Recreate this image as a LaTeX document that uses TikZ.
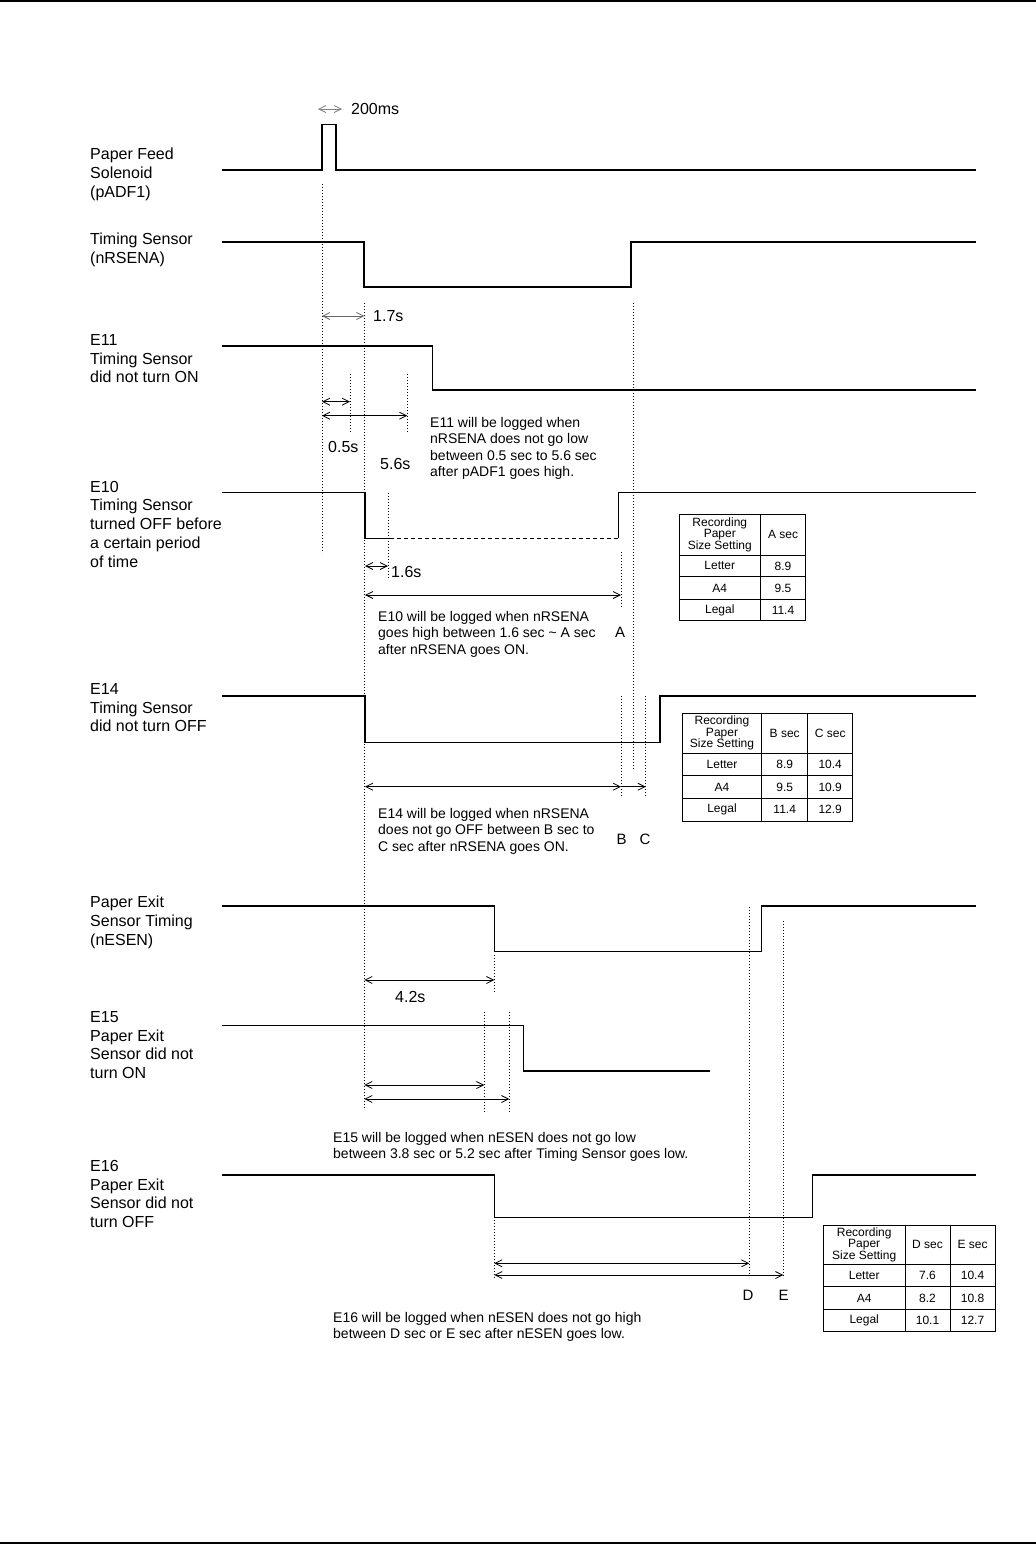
\documentclass[tikz,border=0pt]{standalone}
\usepackage{fontspec}
\setmainfont{Liberation Sans}
\usetikzlibrary{arrows.meta}
\begin{document}
\begin{tikzpicture}[x=1pt,y=-1pt,
 sig/.style={line width=1.3pt, line join=miter},
 dotv/.style={line width=0.9pt, dash pattern=on 1pt off 2pt},
 dashl/.style={line width=1.1pt, dash pattern=on 4pt off 3pt},
 dim/.style={line width=0.8pt, {Straight Barb[length=7pt,width=7pt]}-{Straight Barb[length=7pt,width=7pt]}},
 dimr/.style={line width=0.8pt, -{Straight Barb[length=7pt,width=7pt]}},
 lab/.style={anchor=north west, inner sep=0pt, align=left, font=\fontsize{16}{18.8}\selectfont},
 note/.style={anchor=north west, inner sep=0pt, align=left, font=\fontsize{14}{16.6}\selectfont},
 val/.style={inner sep=0pt, font=\fontsize{16}{19}\selectfont},
 letter/.style={inner sep=0pt, font=\fontsize{15}{18}\selectfont},
 tcell/.style={inner sep=0pt, align=center, font=\fontsize{12}{11.5}\selectfont},
 tab/.style={line width=0.9pt}
]
\useasboundingbox (0,0) rectangle (1036,1545);
% page rules
\draw[line width=2pt] (0,1) -- (1036,1);
\draw[line width=2pt] (0,1543) -- (1036,1543);

% ---------- left labels ----------
\node[lab] (lPF)  at (90,148)   {Paper Feed\\Solenoid\\(pADF1)};
\node[lab] (lTS)  at (90,233)   {Timing Sensor\\(nRSENA)};
\node[lab] (lE11) at (90,334)   {E11\\Timing Sensor\\did not turn ON};
\node[lab] (lE10) at (90,480.7) {E10\\Timing Sensor\\turned OFF before\\a certain period\\of time};
\node[lab] (lE14) at (90,683)   {E14\\Timing Sensor\\did not turn OFF};
\node[lab] (lPE)  at (90,896)   {Paper Exit\\Sensor Timing\\(nESEN)};
\node[lab] (lE15) at (90,1011)  {E15\\Paper Exit\\Sensor did not\\turn ON};
\node[lab] (lE16) at (90,1160)  {E16\\Paper Exit\\Sensor did not\\turn OFF};

% ---------- signals ----------
% Paper feed solenoid
\draw[sig] (222,170) -- (322,170) -- (322,124.5) -- (336,124.5) -- (336,170) -- (976,170);
% Timing sensor
\draw[sig] (222,242) -- (364,242) -- (364,287) -- (631,287) -- (631,242) -- (976,242);
% E11
\draw[sig] (222,346) -- (432.5,346) -- (432.5,390) -- (976,390);
% E10
\draw[sig] (222,492.5) -- (365,492.5) -- (365,538.3) -- (390,538.3);
\draw[dashl] (390,538.3) -- (618.3,538.3);
\draw[sig] (618.3,538.3) -- (618.3,492.5) -- (976,492.5);
% E14
\draw[sig] (222,696) -- (365,696) -- (365,742.3) -- (660,742.3) -- (660,696) -- (976,696);
% Paper exit
\draw[sig] (222,906) -- (494.3,906) -- (494.3,951.7) -- (761.7,951.7) -- (761.7,906) -- (976,906);
% E15
\draw[sig] (222,1025.7) -- (523.3,1025.7) -- (523.3,1071) -- (710,1071);
% E16
\draw[sig] (222,1175) -- (494.3,1175) -- (494.3,1217.7) -- (812.3,1217.7) -- (812.3,1175) -- (976,1175);

% ---------- dotted guides ----------
\draw[dotv] (322,184) -- (322,553);
\draw[dotv] (364.3,303) -- (364.3,1110);
\draw[dotv] (633,303) -- (633,770);
\draw[dotv] (350,374) -- (350,432);
\draw[dotv] (407.3,374) -- (407.3,432);
\draw[dotv] (388,493) -- (388,579);
\draw[dotv] (621,552) -- (621,608);
\draw[dotv] (621,696) -- (621,797);
\draw[dotv] (645.7,696) -- (645.7,797);
\draw[dotv] (494.3,955) -- (494.3,993);
\draw[dotv] (749.3,907) -- (749.3,1274);
\draw[dotv] (783.3,921) -- (783.3,1278);
\draw[dotv] (484.3,1012) -- (484.3,1113);
\draw[dotv] (509.3,1012) -- (509.3,1113);
\draw[dotv] (494.3,1220) -- (494.3,1278);

% ---------- dimension arrows ----------
\coordinate (p200a) at (318,109);   \coordinate (p200b) at (342,109);
\draw[dim, gray] (p200a) -- (p200b);
\node[val, anchor=west] (t200) at (351,109) {200ms};

\coordinate (a17a) at (322,316);  \coordinate (a17b) at (364.3,316);
\draw[dim, gray!80!black] (a17a) -- (a17b);
\node[val, anchor=west] (t17) at (373,316) {1.7s};

\coordinate (a05a) at (322,401.7);  \coordinate (a05b) at (350,401.7);
\draw[dim] (a05a) -- (a05b);
\coordinate (a56a) at (322,415.7);  \coordinate (a56b) at (407.3,415.7);
\draw[dim] (a56a) -- (a56b);
\node[val, anchor=west] (t05) at (328,447) {0.5s};
\node[val, anchor=west] (t56) at (380,464.3) {5.6s};
\node[note] (nE11) at (430,416.7) {E11 will be logged when\\nRSENA does not go low\\between 0.5 sec to 5.6 sec\\after pADF1 goes high.};

\coordinate (a16a) at (365,566);  \coordinate (a16b) at (388,566);
\draw[dim] (a16a) -- (a16b);
\node[val, anchor=west] (t16) at (391,572) {1.6s};
\coordinate (aAa) at (365,595);  \coordinate (aAb) at (621,595);
\draw[dim] (aAa) -- (aAb);
\node[letter] (lA) at (620,632) {A};
\node[note] (nE10) at (378,611) {E10 will be logged when nRSENA\\goes high between 1.6 sec \textasciitilde{} A sec\\after nRSENA goes ON.};

\coordinate (aBa) at (365,786.7);  \coordinate (aBb) at (621,786.7);  \coordinate (aCb) at (645.7,786.7);
\draw[dim] (aBa) -- (aBb);
\draw[dimr] (aBb) -- (aCb);
\node[letter] (lB) at (621.7,839) {B};
\node[letter] (lC) at (645,839) {C};
\node[note] (nE14) at (378,807.7) {E14 will be logged when nRSENA\\does not go OFF between B sec to\\C sec after nRSENA goes ON.};

\coordinate (a42a) at (364.3,980);  \coordinate (a42b) at (494.3,980);
\draw[dim] (a42a) -- (a42b);
\node[val, anchor=west] (t42) at (395,996.7) {4.2s};

\coordinate (a38a) at (364.3,1085);  \coordinate (a38b) at (484.3,1085);
\draw[dim] (a38a) -- (a38b);
\coordinate (a52a) at (364.3,1099);  \coordinate (a52b) at (509.3,1099);
\draw[dim] (a52a) -- (a52b);
\node[note] (nE15) at (333,1132) {E15 will be logged when nESEN does not go low\\between 3.8 sec or 5.2 sec after Timing Sensor goes low.};

\coordinate (aDa) at (494.3,1263.3);  \coordinate (aDb) at (749.3,1263.3);
\draw[dim] (aDa) -- (aDb);
\coordinate (aEa) at (494.3,1275);  \coordinate (aEb) at (783.3,1275);
\draw[dim] (aEa) -- (aEb);
\node[letter] (lD) at (748,1295) {D};
\node[letter] (lE) at (783.5,1295) {E};
\node[note] (nE16) at (333,1312) {E16 will be logged when nESEN does not go high\\between D sec or E sec after nESEN goes low.};

% ---------- table A ----------
\draw[tab] (679,514) rectangle (805,620.7);
\draw[tab] (760.7,514) -- (760.7,620.7);
\draw[tab] (679,555) -- (805,555) (679,576.7) -- (805,576.7) (679,599) -- (805,599);
\node[tcell] (tAh1) at (719.8,534.5) {Recording\\Paper\\Size Setting};
\node[tcell] (tAh2) at (783,534.5) {A sec};
\node[tcell] (tAr1) at (719.8,565.9) {Letter};
\node[tcell] (tAv1) at (783,565.9) {8.9};
\node[tcell] (tAr2) at (719.8,587.9) {A4};
\node[tcell] (tAv2) at (783,587.9) {9.5};
\node[tcell] (tAr3) at (719.8,609.9) {Legal};
\node[tcell] (tAv3) at (783,609.9) {11.4};

% ---------- table BC ----------
\draw[tab] (682.3,713.3) rectangle (852.7,821);
\draw[tab] (761.7,713.3) -- (761.7,821) (807.7,713.3) -- (807.7,821);
\draw[tab] (682.3,753.3) -- (852.7,753.3) (682.3,775.7) -- (852.7,775.7) (682.3,798.3) -- (852.7,798.3);
\node[tcell] (tBh1) at (722,733.3) {Recording\\Paper\\Size Setting};
\node[tcell] (tBh2) at (784.7,733.3) {B sec};
\node[tcell] (tBh3) at (830.2,733.3) {C sec};
\node[tcell] (tBr1) at (722,764.5) {Letter};
\node[tcell] (tBb1) at (784.7,764.5) {8.9};
\node[tcell] (tBc1) at (830.2,764.5) {10.4};
\node[tcell] (tBr2) at (722,787) {A4};
\node[tcell] (tBb2) at (784.7,787) {9.5};
\node[tcell] (tBc2) at (830.2,787) {10.9};
\node[tcell] (tBr3) at (722,809.7) {Legal};
\node[tcell] (tBb3) at (784.7,809.7) {11.4};
\node[tcell] (tBc3) at (830.2,809.7) {12.9};

% ---------- table DE ----------
\draw[tab] (823.3,1225) rectangle (995,1331.7);
\draw[tab] (905,1225) -- (905,1331.7) (950,1225) -- (950,1331.7);
\draw[tab] (823.3,1264.3) -- (995,1264.3) (823.3,1286.7) -- (995,1286.7) (823.3,1309.3) -- (995,1309.3);
\node[tcell] (tDh1) at (864.2,1244.7) {Recording\\Paper\\Size Setting};
\node[tcell] (tDh2) at (927.5,1244.7) {D sec};
\node[tcell] (tDh3) at (972.5,1244.7) {E sec};
\node[tcell] (tDr1) at (864.2,1275.5) {Letter};
\node[tcell] (tDd1) at (927.5,1275.5) {7.6};
\node[tcell] (tDe1) at (972.5,1275.5) {10.4};
\node[tcell] (tDr2) at (864.2,1298) {A4};
\node[tcell] (tDd2) at (927.5,1298) {8.2};
\node[tcell] (tDe2) at (972.5,1298) {10.8};
\node[tcell] (tDr3) at (864.2,1320.5) {Legal};
\node[tcell] (tDd3) at (927.5,1320.5) {10.1};
\node[tcell] (tDe3) at (972.5,1320.5) {12.7};
\end{tikzpicture}
\end{document}
